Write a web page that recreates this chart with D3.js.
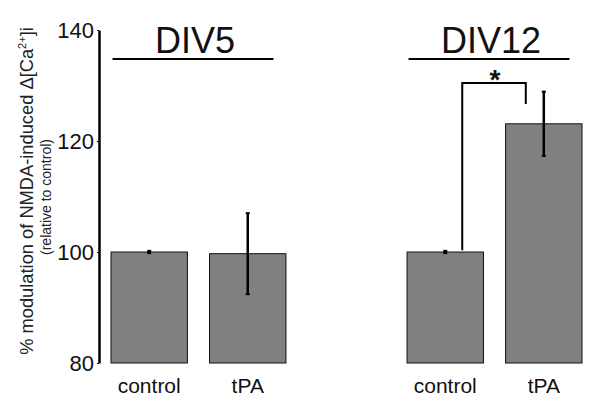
<!DOCTYPE html>
<html><head><meta charset="utf-8">
<script src="https://cdn.jsdelivr.net/npm/d3@7"></script>
<style>body{margin:0;background:#fff}svg{display:block;font-family:"Liberation Sans",Arial,sans-serif}</style>
</head><body><svg id="c" width="601" height="404"></svg>
<script>
const groups = ["DIV5", "DIV12"];
const categories = ["control", "tPA"];
const means = [[100, 99.7], [100, 123.1]];
const errors = [[0.2, 7.3], [0.2, 5.8]];
const yTicks = [80, 100, 120, 140];

const svg = d3.select("#c");
const y = d3.scaleLinear().domain([80, 140]).range([363, 30]);
const xGroup = d3.scaleBand().domain(groups).range([111, 582]).paddingInner(0.409);
const xBar = d3.scaleBand().domain(categories).range([0, xGroup.bandwidth()]).paddingInner(0.2245);

// y axis
const ax = svg.append("g").attr("transform", "translate(99,0)")
  .call(d3.axisLeft(y).tickValues(yTicks).tickSize(2).tickPadding(3).tickSizeOuter(0));
ax.attr("font-size", null).attr("font-family", null);
ax.select(".domain").attr("stroke", "#000").attr("stroke-width", 2.5);
ax.selectAll(".tick line").attr("stroke", "#000");
ax.selectAll(".tick text").style("font-size", "22px").attr("fill", "#111");

// axis title
const t = svg.append("g").attr("transform", "translate(33,191) rotate(-90)");
t.append("text").attr("text-anchor", "middle").style("font-size", "18.3px").attr("fill", "#222")
  .html('% modulation of NMDA-induced \u0394[Ca<tspan dy="-7" style="font-size:11px">2+</tspan><tspan dy="7">]i</tspan>');
t.append("text").attr("text-anchor", "middle").attr("x", -6).attr("y", 18).style("font-size", "14px").attr("fill", "#222")
  .text("(relative to control)");

groups.forEach((g, gi) => {
  const gx = xGroup(g);
  const gg = svg.append("g").attr("transform", `translate(${gx},0)`);
  categories.forEach((c, ci) => {
    const bx = xBar(c), bw = xBar.bandwidth(), v = means[gi][ci], e = errors[gi][ci];
    gg.append("rect").attr("x", bx).attr("y", y(v)).attr("width", bw).attr("height", y(80) - y(v))
      .attr("fill", "#808080").attr("stroke", "#111").attr("stroke-width", 1);
    const cx = bx + bw / 2;
    gg.append("line").attr("x1", cx).attr("x2", cx).attr("y1", y(v + e)).attr("y2", y(v - e))
      .attr("stroke", "#000").attr("stroke-width", 2.5);
    [v + e, v - e].forEach(w => gg.append("line").attr("x1", cx - 2).attr("x2", cx + 2)
      .attr("y1", y(w)).attr("y2", y(w)).attr("stroke", "#000").attr("stroke-width", 2));
    gg.append("text").attr("x", cx).attr("y", 393).attr("text-anchor", "middle")
      .style("font-size", "21px").attr("fill", "#111").text(c);
  });
  const w = xGroup.bandwidth();
  gg.append("line").attr("x1", 1.5).attr("x2", w - 12.5).attr("y1", 59).attr("y2", 59)
    .attr("stroke", "#000").attr("stroke-width", 2);
  gg.append("text").attr("x", (w - 11) / 2 + 2).attr("y", 53).attr("text-anchor", "middle")
    .style("font-size", "36px").attr("fill", "#111").text(g);
});

// significance bracket DIV12
const g2 = xGroup("DIV12");
const lx = g2 + xBar("control") + xBar.bandwidth() / 2 + 17;
const rx = g2 + xBar("tPA") + xBar.bandwidth() / 2 - 18;
svg.append("path").attr("fill", "none").attr("stroke", "#000").attr("stroke-width", 2)
  .attr("d", `M${lx},${y(100.3)}V83H${rx}V104`);
svg.append("text").attr("x", (lx + rx) / 2 + 1).attr("y", 89).attr("text-anchor", "middle")
  .style("font-size", "28px").style("font-weight", "bold").attr("fill", "#111").text("*");
</script></body></html>
